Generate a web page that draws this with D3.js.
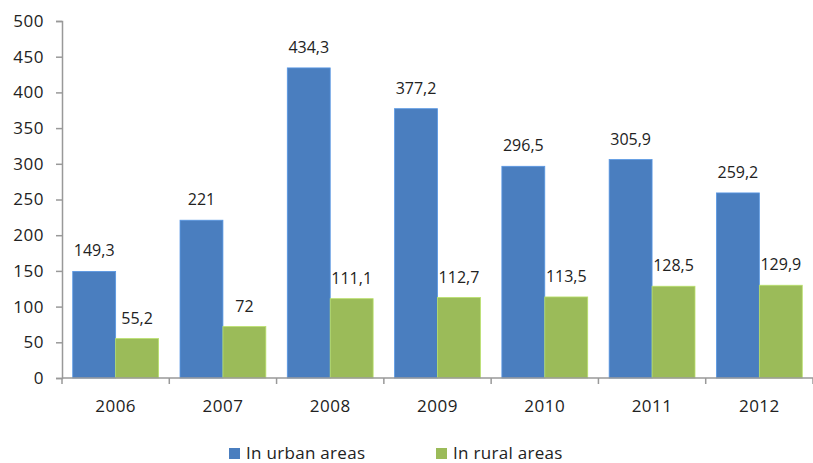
<!DOCTYPE html>
<meta charset="utf-8">
<style>
 body { margin: 0; background: #fff; }
 svg { display: block; }
 text { font-family: 'Open Sans', sans-serif; fill: #222; }
</style>
<svg width="813" height="463"></svg>
<script src="https://d3js.org/d3.v7.min.js"></script>
<script>
 var years = ['2006', '2007', '2008', '2009', '2010', '2011', '2012'];
 var urban = [149.3, 221, 434.3, 377.2, 296.5, 305.9, 259.2];
 var rural = [55.2, 72, 111.1, 112.7, 113.5, 128.5, 129.9];
 var seriesNames = ['In urban areas', 'In rural areas'];
 var colors = ['#4a7ebf', '#9bbb59'];
 var yTicks = d3.range(0, 501, 50);

 var svg = d3.select('svg');
 var mLeft = 62, mRight = 813, mTop = 21, mBottom = 378;

 var x = d3.scaleBand().domain(years).range([mLeft, mRight])
     .paddingInner(0.2).paddingOuter(0.1);
 var xs = d3.scaleBand().domain([0, 1]).range([0, x.bandwidth()]);
 var y = d3.scaleLinear().domain([0, 500]).range([mBottom, mTop]);

 var fmt = function(v) { return String(v).replace('.', ','); };

 // bars
 var data = [];
 years.forEach(function(yr, i) {
     data.push({ year: yr, s: 0, v: urban[i] });
     data.push({ year: yr, s: 1, v: rural[i] });
 });

 svg.selectAll('rect.bar').data(data).enter().append('rect')
     .attr('class', 'bar')
     .attr('x', function(d) { return x(d.year) + xs(d.s); })
     .attr('y', function(d) { return y(d.v); })
     .attr('width', xs.bandwidth())
     .attr('height', function(d) { return y(0) - y(d.v); })
     .attr('fill', function(d) { return colors[d.s]; })
     .attr('stroke', function(d) { return d3.color(colors[d.s]).brighter(0.5); })
     .attr('stroke-width', 0.8);

 svg.selectAll('text.lbl').data(data).enter().append('text')
     .attr('class', 'lbl')
     .attr('x', function(d) { return x(d.year) + xs(d.s) + xs.bandwidth() / 2; })
     .attr('y', function(d) { return y(d.v) - 15; })
     .attr('text-anchor', 'middle')
     .attr('font-size', 16)
     .text(function(d) { return fmt(d.v); });

 // axes
 var yAxis = d3.axisLeft(y).tickValues(yTicks).tickSize(6).tickPadding(12);
 var gy = svg.append('g').attr('transform', 'translate(' + mLeft + ',0)').call(yAxis);
 gy.select('.domain').attr('stroke', '#999').attr('stroke-width', 1.5);
 gy.selectAll('.tick line').attr('stroke', '#999').attr('stroke-width', 1.5);
 gy.selectAll('text').attr('font-size', 17).attr('fill', '#222')
     .attr('letter-spacing', 0.5)
     .attr('font-family', "'Open Sans', sans-serif");

 var gx = svg.append('g').attr('transform', 'translate(0,' + mBottom + ')');
 gx.append('line').attr('x1', mLeft).attr('x2', mRight).attr('stroke', '#999').attr('stroke-width', 1.5);
 var step = x.step();
 var bounds = d3.range(years.length + 1).map(function(i) { return mLeft + i * step; });
 gx.selectAll('line.tk').data(bounds).enter().append('line')
     .attr('class', 'tk')
     .attr('x1', function(d) { return d; }).attr('x2', function(d) { return d; })
     .attr('y1', 0).attr('y2', 6)
     .attr('stroke', '#999').attr('stroke-width', 1.5);
 gx.selectAll('text').data(years).enter().append('text')
     .attr('x', function(d) { return x(d) + x.bandwidth() / 2; })
     .attr('y', 34)
     .attr('text-anchor', 'middle')
     .attr('font-size', 17)
     .attr('letter-spacing', 0.5)
     .text(function(d) { return d; });

 // legend
 var legendX = [229, 436];
 var lg = svg.selectAll('g.leg').data(seriesNames).enter().append('g')
     .attr('class', 'leg')
     .attr('transform', function(d, i) { return 'translate(' + legendX[i] + ',448)'; });
 lg.append('rect').attr('width', 11).attr('height', 11)
     .attr('fill', function(d, i) { return colors[i]; });
 lg.append('text').attr('x', 17).attr('y', 11).attr('font-size', 17)
     .attr('letter-spacing', 0.3)
     .text(function(d) { return d; });
</script>
